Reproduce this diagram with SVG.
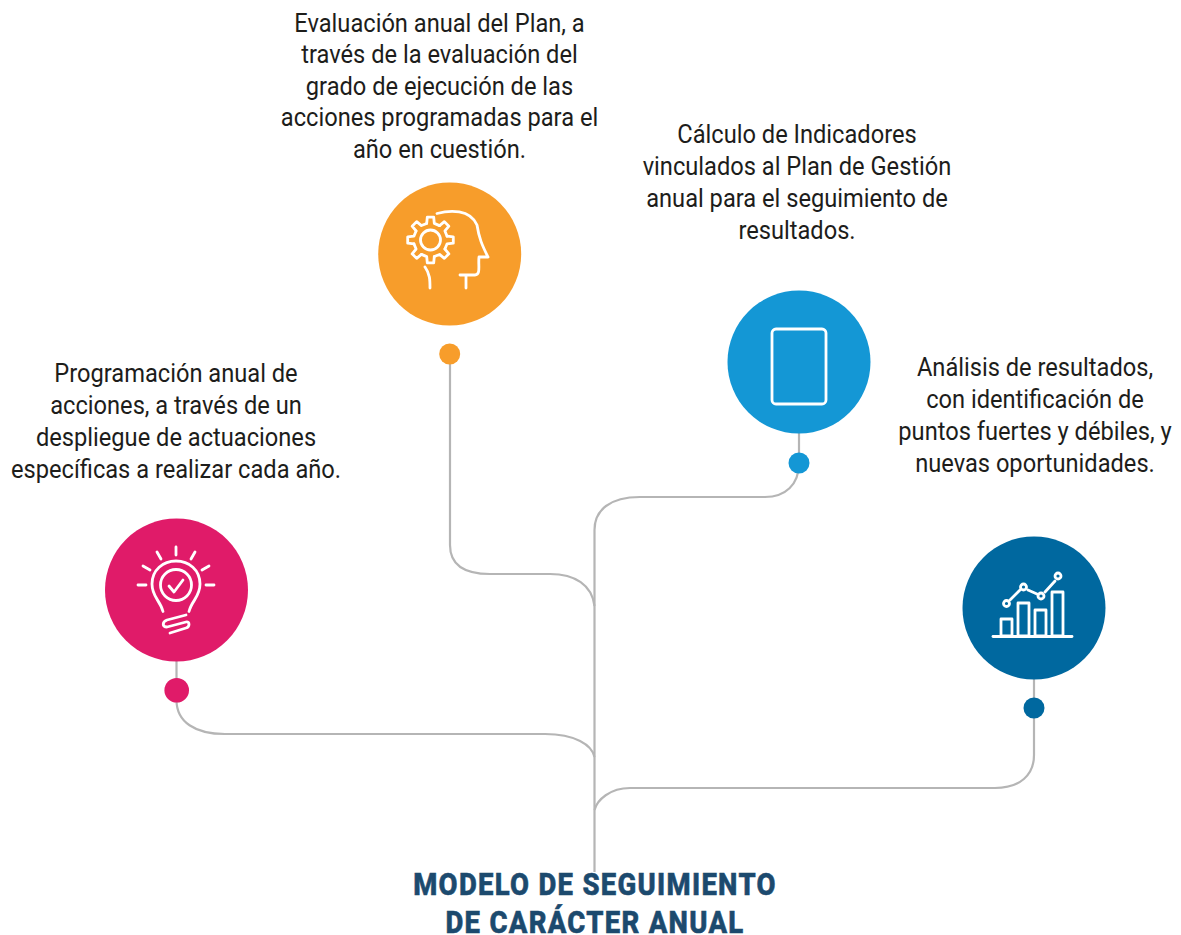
<svg xmlns="http://www.w3.org/2000/svg" width="1181" height="935" viewBox="0 0 1181 935">
<style>
.t{font-family:Roboto,"Liberation Sans",sans-serif;font-size:26px;fill:#1d1d1b;text-anchor:middle}
.h{font-family:Roboto,"Liberation Sans",sans-serif;font-size:32px;font-weight:800;fill:#1c4a6e;stroke:#1c4a6e;stroke-width:.6;text-anchor:middle;letter-spacing:1.500px}
.c{fill:none;stroke:#b5b5b5;stroke-width:2.2}
.i{fill:none;stroke:#fff;stroke-width:2.8;stroke-linecap:round;stroke-linejoin:round}
</style>
<defs>
<path id="tooth" d="M-3.800-16.600L-3.200-22.800H3.200L3.800-16.600L9-14.400"/>
</defs>
<rect width="1181" height="935" fill="#fff"/>
<g id="connectors">
<path class="c" d="M594.500 872V530C594.500 510 610 497 640 497H765C785 497 799 485 799 463V430"/>
<path class="c" d="M450 354V545C450 565 465 574 490 574H550C575 574 592 585 594.500 606"/>
<path class="c" d="M176.500 655V700C176.500 722 195 734 225 734H545C575 734 592 745 594.500 757"/>
<path class="c" d="M1034 675V755C1034 775 1020 788 995 788H630C610 788 597 800 594.500 810"/>
</g>
<g id="node-evaluacion">
<circle cx="449.700" cy="254" r="71.500" fill="#f79d2b"/>
<circle cx="449.700" cy="354" r="10.500" fill="#f79d2b"/>
<g class="i">
<circle cx="430.500" cy="240" r="10"/>
<g transform="translate(430.500 240)">
<use href="#tooth"/><use href="#tooth" transform="rotate(45)"/><use href="#tooth" transform="rotate(90)"/><use href="#tooth" transform="rotate(135)"/><use href="#tooth" transform="rotate(180)"/><use href="#tooth" transform="rotate(225)"/><use href="#tooth" transform="rotate(270)"/><use href="#tooth" transform="rotate(315)"/>
</g>
<path d="M437 213.500C450 210 470 209 477 225C479 238 482 245 488 257H479C478 265 481 275 475 275H460M466 275V288M425 267C430 274 430 280 430 288"/>
</g>
<text class="t" transform="translate(439.500 0) scale(.91 1)"><tspan x="0" y="32">Evaluación anual del Plan, a</tspan><tspan x="0" y="63">través de la evaluación del</tspan><tspan x="0" y="95">grado de ejecución de las</tspan><tspan x="0" y="126">acciones programadas para el</tspan><tspan x="0" y="158">año en cuestión.</tspan></text>
</g>
<g id="node-calculo">
<circle cx="799" cy="362" r="71.500" fill="#1497d5"/>
<circle cx="799" cy="463" r="10.500" fill="#1497d5"/>
<rect x="772" y="329" width="54" height="75" rx="4" class="i"/>
<text class="t" transform="translate(797 0) scale(.91 1)"><tspan x="0" y="143">Cálculo de Indicadores</tspan><tspan x="0" y="175">vinculados al Plan de Gestión</tspan><tspan x="0" y="207">anual para el seguimiento de</tspan><tspan x="0" y="239">resultados.</tspan></text>
</g>
<g id="node-programacion">
<circle cx="176.500" cy="590" r="71.500" fill="#e01b69"/>
<circle cx="176.700" cy="690.300" r="12.300" fill="#e01b69"/>
<g class="i">
<circle cx="176" cy="585" r="15.500"/>
<path d="M169 586L174 592L183 580"/>
<path d="M163 611.500C160 600 152 597 152 584C152 570 163 561 176 561C189 561 200 570 200 584C200 597 192 600 189 611.500"/>
<path d="M186 615L167 620C162 622 162 627 167 627L186 622C190 621 190 627 186 628L170 633"/>
<path d="M176 547V555M157 552L161 559M195 552L191 559M143 566L150 570M209 566L202 570M138 585H146M206 585H214"/>
</g>
<text class="t" transform="translate(176 0) scale(.91 1)"><tspan x="0" y="382">Programación anual de</tspan><tspan x="0" y="414">acciones, a través de un</tspan><tspan x="0" y="446.500">despliegue de actuaciones</tspan><tspan x="0" y="478.500">específicas a realizar cada año.</tspan></text>
</g>
<g id="node-analisis">
<circle cx="1034" cy="608" r="71.500" fill="#00689f"/>
<circle cx="1034" cy="708" r="10.500" fill="#00689f"/>
<g class="i">
<path d="M993 636.500H1072"/>
<rect x="1001" y="619" width="11" height="17"/><rect x="1018" y="603" width="11" height="33"/><rect x="1035" y="610" width="11" height="26"/><rect x="1052" y="592" width="11" height="44"/>
<path d="M1010 600L1020 590M1028 590L1037 594M1045 592L1055 581"/>
<circle cx="1006.500" cy="603.500" r="3"/><circle cx="1023.500" cy="587" r="3"/><circle cx="1041" cy="596" r="3"/><circle cx="1058" cy="576" r="3"/>
</g>
<text class="t" transform="translate(1035 0) scale(.91 1)"><tspan x="0" y="376">Análisis de resultados,</tspan><tspan x="0" y="408">con identificación de</tspan><tspan x="0" y="440">puntos fuertes y débiles, y</tspan><tspan x="0" y="472">nuevas oportunidades.</tspan></text>
</g>
<g id="node-modelo">
<text class="h" transform="translate(595 0) scale(.86 1)"><tspan x="0" y="895.500">MODELO DE SEGUIMIENTO</tspan><tspan x="0" y="933">DE CARÁCTER ANUAL</tspan></text>
</g>
</svg>
